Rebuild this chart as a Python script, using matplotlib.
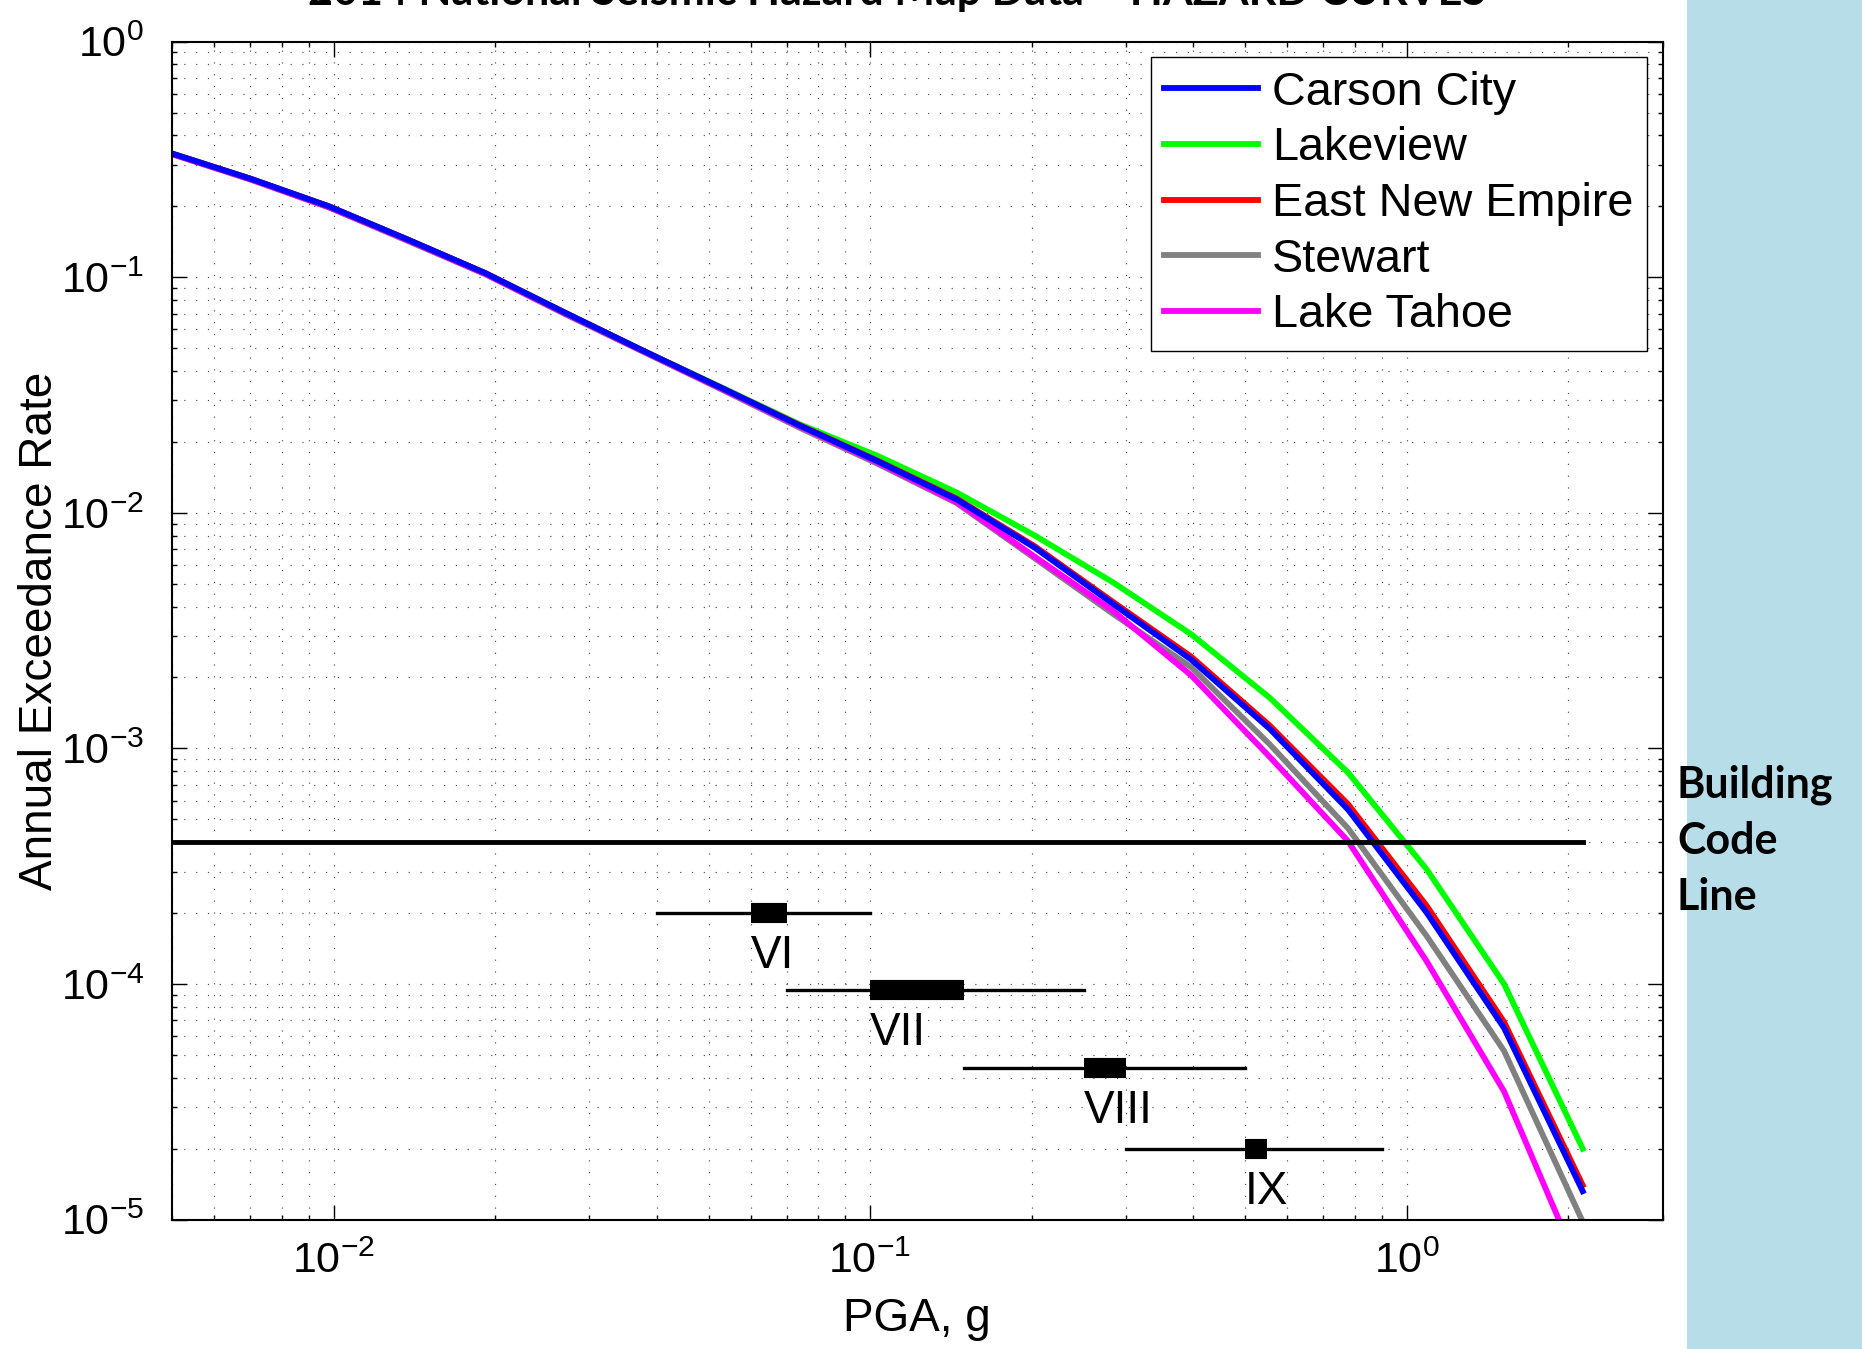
import matplotlib
matplotlib.use("Agg")
import matplotlib.pyplot as plt
from matplotlib import font_manager
from matplotlib.patches import Rectangle
from matplotlib.ticker import LogLocator, NullFormatter

# hazard curve PGA grid (g)
pga = [0.005, 0.007, 0.0098, 0.0137, 0.0192, 0.0269, 0.0376, 0.0527, 0.0738,
       0.103, 0.145, 0.203, 0.284, 0.397, 0.556, 0.778, 1.09, 1.52, 2.13]

# annual exceedance rate per site
carson_city = [0.335, 0.262, 0.200, 0.145, 0.104, 0.071, 0.049, 0.0340, 0.0235,
               0.0166, 0.0114, 0.0071, 0.0041, 0.00238, 0.00121, 0.00055,
               0.000201, 6.5e-5, 1.32e-5]
lakeview = [0.335, 0.262, 0.200, 0.145, 0.104, 0.071, 0.049, 0.0342, 0.0238,
            0.0175, 0.0122, 0.0080, 0.00506, 0.00305, 0.00164, 0.00079,
            0.000307, 1.0e-4, 2.0e-5]
east_new_empire = [0.335, 0.262, 0.200, 0.145, 0.104, 0.071, 0.049, 0.0340, 0.0236,
                   0.0167, 0.0115, 0.0072, 0.00418, 0.00245, 0.00125, 0.00058,
                   0.000215, 6.9e-5, 1.4e-5]
stewart = [0.333, 0.260, 0.198, 0.143, 0.103, 0.070, 0.0485, 0.0335, 0.0230,
           0.0162, 0.0110, 0.0064, 0.00372, 0.00221, 0.00104, 0.000458,
           0.00016, 5.2e-5, 9.8e-6]
lake_tahoe = [0.333, 0.260, 0.198, 0.144, 0.103, 0.0705, 0.0487, 0.0337, 0.0233,
              0.0164, 0.0111, 0.0065, 0.00383, 0.00204, 0.00092, 0.000404,
              0.000125, 3.5e-5, 5.8e-6]

building_code_rate = 4e-4

# Modified Mercalli intensity bands
mmi_labels = ["VI", "VII", "VIII", "IX"]
mmi_rate = [2.0e-4, 9.4e-5, 4.4e-5, 2.0e-5]
mmi_pga_lo = [0.04, 0.07, 0.15, 0.3]
mmi_pga_hi = [0.1, 0.25, 0.5, 0.9]
mmi_box_lo = [0.06, 0.10, 0.25, 0.5]
mmi_box_hi = [0.07, 0.15, 0.30, 0.55]

names = {f.name for f in font_manager.fontManager.ttflist}
narrow = "Liberation Sans Narrow" if "Liberation Sans Narrow" in names else "Liberation Sans"
tick_size = 38 if narrow == "Liberation Sans Narrow" else 31

plt.rcParams["font.family"] = ["Liberation Sans", "DejaVu Sans"]
plt.rcParams["mathtext.fontset"] = "custom"
plt.rcParams["mathtext.rm"] = narrow

W, H = 1862, 1349
fig = plt.figure(figsize=(W / 100, H / 100), dpi=100)
ax = fig.add_axes([172 / W, 1 - 1219.6 / H, (1662.5 - 172) / W, (1219.6 - 41.6) / H])

# right-hand slide panel
fig.add_artist(Rectangle((1687 / W, 0), 1 - 1687 / W, 1, transform=fig.transFigure,
                         facecolor="#b7dde8", edgecolor="none", zorder=0))

lw = 4.2
l_green, = ax.plot(pga, lakeview, color="#00ff00", lw=lw, label="Lakeview")
l_gray, = ax.plot(pga, stewart, color="#808080", lw=lw, label="Stewart")
l_mag, = ax.plot(pga, lake_tahoe, color="#ff00ff", lw=lw, label="Lake Tahoe")
l_red, = ax.plot(pga, east_new_empire, color="#ff0000", lw=lw, label="East New Empire")
l_blue, = ax.plot(pga, carson_city, color="#0000ff", lw=lw, label="Carson City")

ax.plot([pga[0], pga[-1]], [building_code_rate, building_code_rate], color="k", lw=3.5)

for lab, r, lo, hi, blo, bhi in zip(mmi_labels, mmi_rate, mmi_pga_lo, mmi_pga_hi,
                                     mmi_box_lo, mmi_box_hi):
    ax.plot([lo, hi], [r, r], color="k", lw=2.4)
    ax.plot([blo, bhi], [r, r], color="k", lw=14.5, solid_capstyle="butt")
    ax.annotate(lab, (blo, r), xytext=(0, -39.5), textcoords="offset points",
                ha="left", va="baseline", fontsize=33)

ax.set_xscale("log")
ax.set_yscale("log")
ax.set_xlim(0.005, 3)
ax.set_ylim(1e-5, 1)

ax.xaxis.set_minor_locator(LogLocator(base=10, subs=range(2, 10), numticks=20))
ax.yaxis.set_minor_locator(LogLocator(base=10, subs=range(2, 10), numticks=20))
ax.xaxis.set_minor_formatter(NullFormatter())
ax.yaxis.set_minor_formatter(NullFormatter())

ax.grid(True, which="both", color="0.3", lw=0.85, ls=(0, (1, 9)))
ax.tick_params(which="both", direction="in", top=True, right=True, width=1.0)
ax.tick_params(which="major", length=11)
ax.tick_params(which="minor", length=3.6)
ax.tick_params(axis="x", which="major", pad=16, labelsize=tick_size, labelfontfamily=narrow)
ax.tick_params(axis="y", which="major", pad=20, labelsize=tick_size, labelfontfamily=narrow)
for s in ax.spines.values():
    s.set_linewidth(1.5)

ax.set_xlabel("PGA, g", fontsize=33)
ax.xaxis.set_label_coords(0.5, -0.066)
ax.set_ylabel("Annual Exceedance Rate", fontsize=33)
ax.yaxis.set_label_coords(-0.074, 0.5)

leg = ax.legend(handles=[l_blue, l_green, l_red, l_gray, l_mag], loc="upper right",
                fontsize=33.7, fancybox=False, edgecolor="k", framealpha=1,
                borderaxespad=0.33, labelspacing=0.25, handlelength=2.0,
                handletextpad=0.3, borderpad=0.29)
leg.get_frame().set_linewidth(1.0)

fig.text(897 / W, 1 - 5 / H, "2014 National Seismic Hazard Map Data \u2013 HAZARD CURVES",
         ha="center", va="baseline", fontsize=31, fontweight="bold",
         family=["Lato", "DejaVu Sans"])
fig.text(1677 / W, 1 - 841 / H, "Building\nCode\nLine", ha="left", va="center",
         fontsize=31, fontweight="bold", family=["Lato", "DejaVu Sans"],
         linespacing=1.49, zorder=5)

fig.savefig("out.png", dpi=100)
